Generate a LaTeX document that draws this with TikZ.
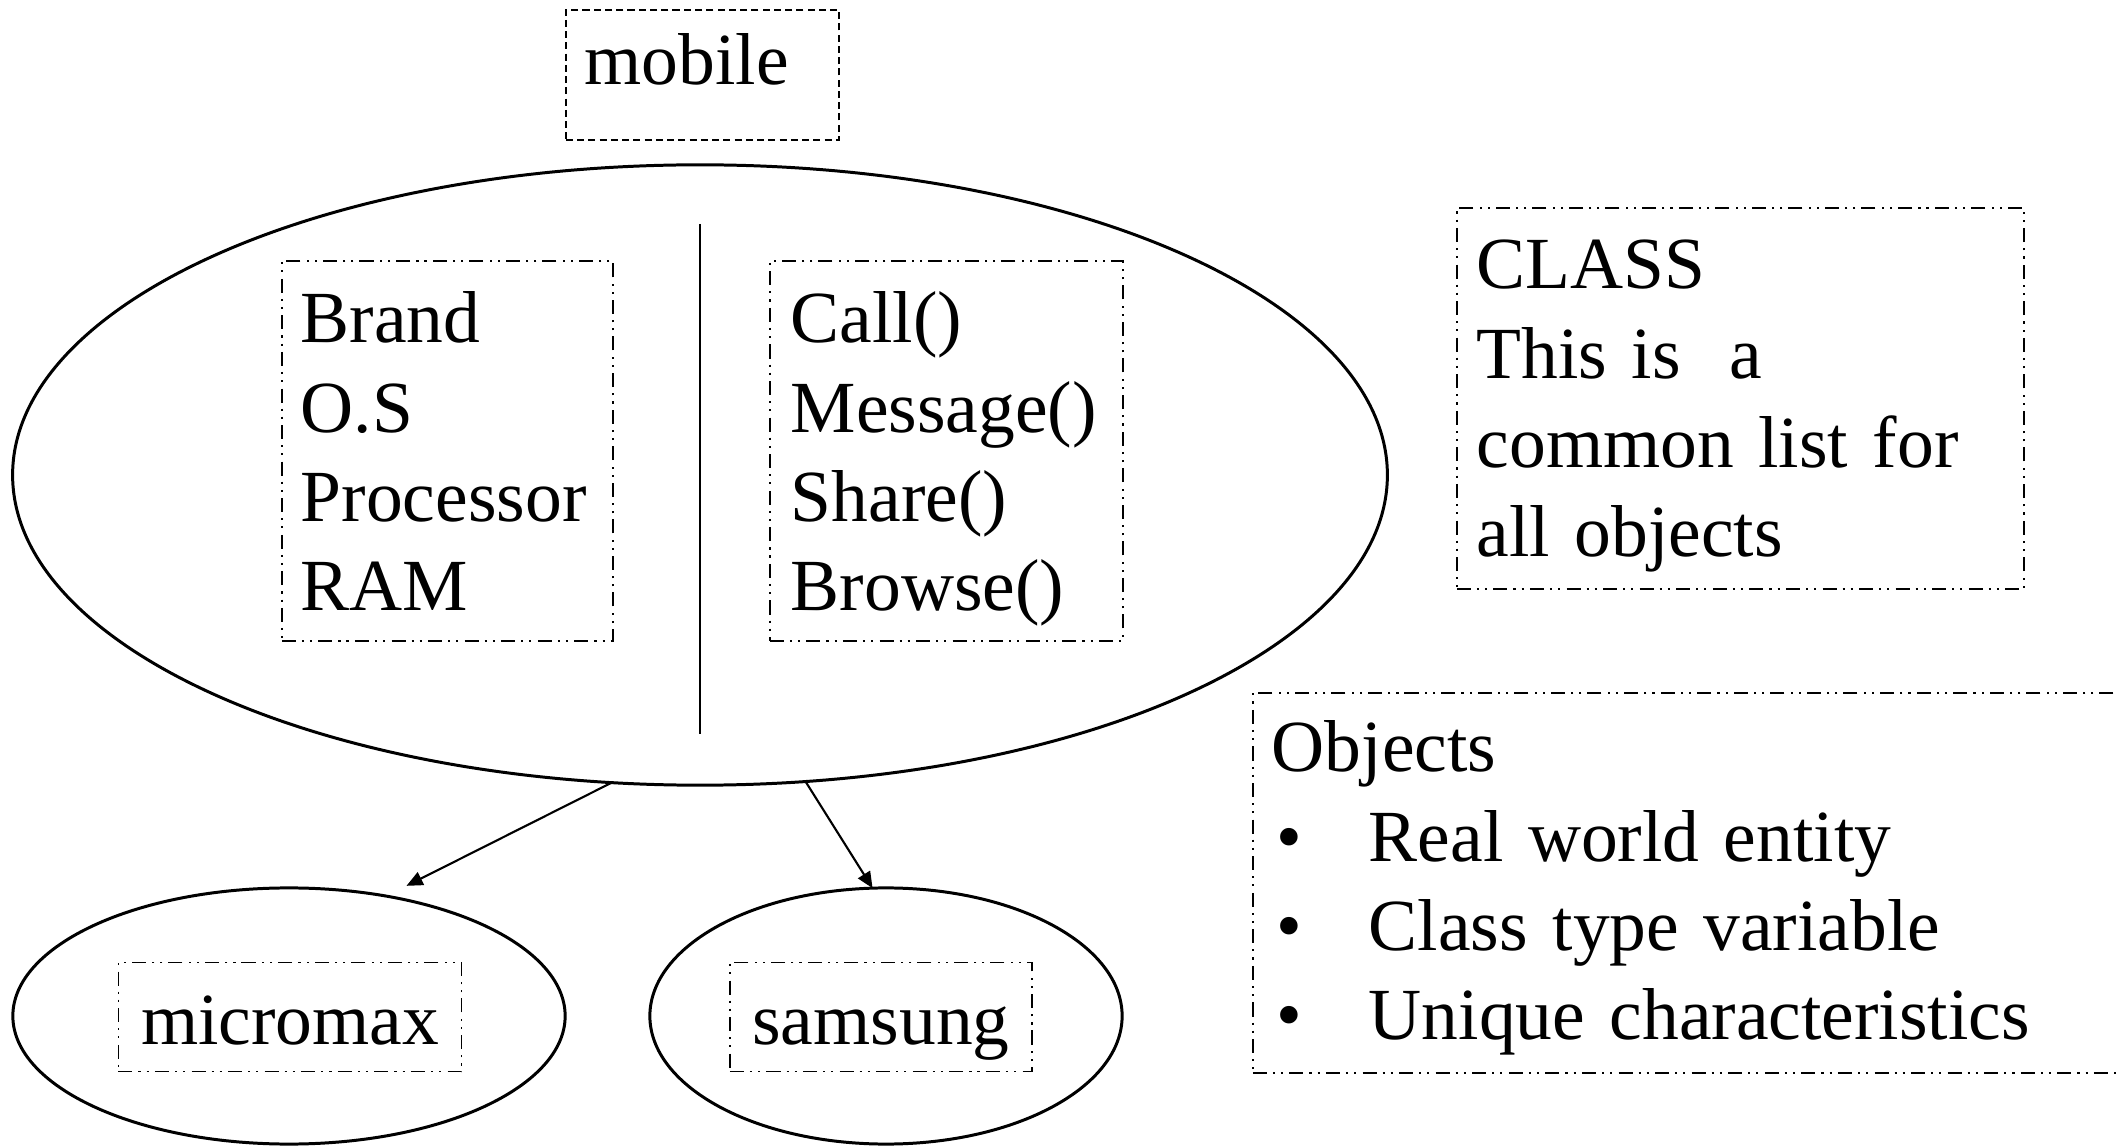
\documentclass[tikz,border=0pt]{standalone}
\usepackage{fontspec}
\setmainfont{Liberation Serif}
\usepackage{tikz}
\usetikzlibrary{shapes.geometric,arrows.meta}

\newcommand{\diagfont}{\fontsize{20.9pt}{25.4pt}\selectfont}
\newcommand{\bul}{\makebox[0.97cm][l]{\hspace{0.05cm}\textbullet}}

\begin{document}
\begin{tikzpicture}[x=0.01cm,y=-0.01cm,
  font=\diagfont,
  dashbox/.style={draw, line width=0.45pt, dash pattern=on 2pt off 1.2pt,
    anchor=north west, align=left, inner xsep=0.19cm, inner ysep=0.1cm},
  listbox/.style={draw, line width=0.45pt,
    dash pattern=on 4pt off 1.7pt on 0.6pt off 1.7pt on 0.6pt off 1.8pt,
    anchor=north west, align=left, inner ysep=0pt},
  tagbox/.style={draw, line width=0.45pt,
    dash pattern=on 4pt off 1.7pt on 0.6pt off 1.7pt on 0.6pt off 1.8pt,
    inner sep=0pt, text height=0.82cm, text depth=0.27cm},
  oval/.style={draw, ellipse, line width=0.85pt, inner sep=0pt, outer sep=0pt},
  link/.style={line width=0.6pt, -{Triangle[length=4.6pt,width=4pt]}}]

  \useasboundingbox (0,0) rectangle (2120,1146);

  % Class name
  \node[dashbox, text width=2.35cm, text height=0.65cm, text depth=0.45cm] (title) at (565,9) {mobile};

  % Class body: attributes | methods
  \node[oval, minimum width=13.74cm, minimum height=6.2cm] (cls) at (700,475) {};
  \draw[line width=0.45pt] (700,224) -- (700,734);
  \node[listbox, inner xsep=0.19cm, text width=2.93cm, text height=0.82cm, text depth=2.98cm] (attr) at (281,260)
    {Brand\\O.S\\Processor\\RAM};
  \node[listbox, inner xsep=0.21cm, text width=3.11cm, text height=0.82cm, text depth=2.98cm] (meth) at (769,260)
    {Call()\\Message()\\Share()\\Browse()};

  % Notes on the right
  \node[listbox, inner xsep=0.2cm, text width=5.27cm, text height=0.81cm, text depth=3.0cm] (note) at (1456,207)
    {CLASS\\This is\ \ a\\common list for\\all objects};
  \node[listbox, inner xsep=0.19cm, text width=8.6cm, text height=0.79cm, text depth=3.01cm] (objs) at (1252,692)
    {Objects\\\bul Real world entity\\\bul Class type variable\\\bul Unique characteristics};

  % Objects
  \node[oval, minimum width=5.52cm, minimum height=2.56cm] (mm) at (289,1016) {};
  \node[tagbox, minimum width=3.43cm] (mmlabel) at (290,1017) {micromax};
  \node[oval, minimum width=4.72cm, minimum height=2.56cm] (sam) at (886,1016) {};
  \node[tagbox, minimum width=3.02cm] (samlabel) at (881,1017) {samsung};

  \draw[link, shorten >=6.5pt] (cls.254) -- (mm.51);
  \draw[link] (cls.289) -- (sam.96);
\end{tikzpicture}
\end{document}
